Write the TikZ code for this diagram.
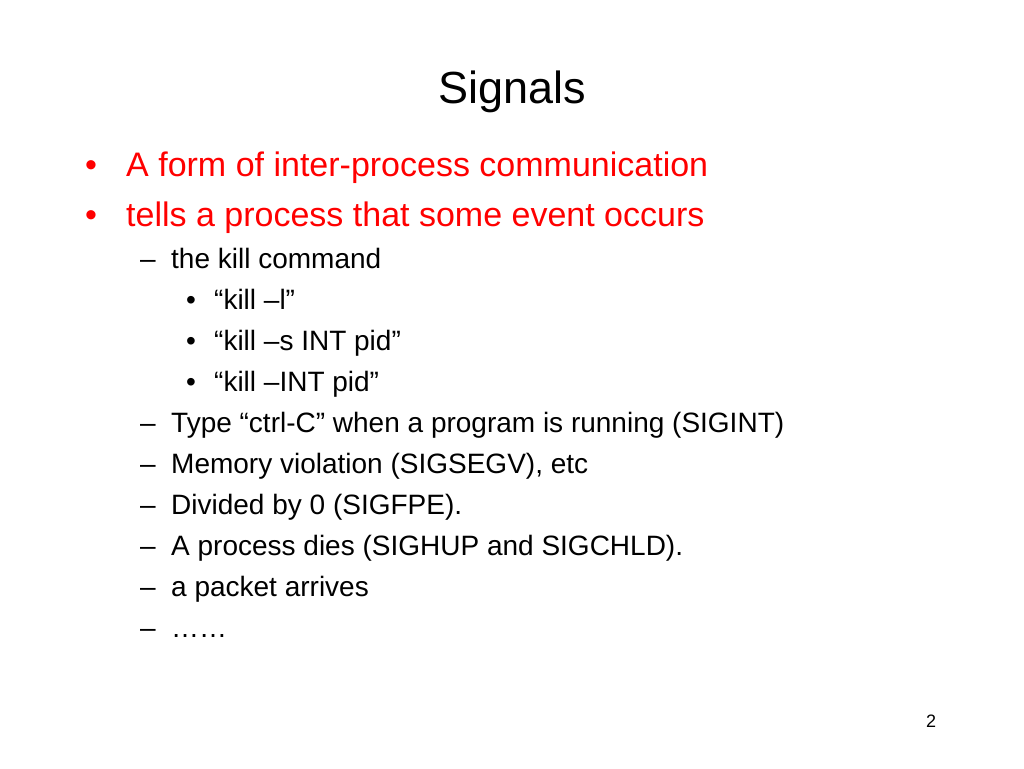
\documentclass[tikz,border=0pt]{standalone}
\usepackage{fontspec}
\setmainfont{Liberation Sans}
\begin{document}
\begin{tikzpicture}[x=1pt,y=-1pt,
  t/.style={anchor=base west,inner sep=0pt,font=\fontsize{28}{30}\selectfont},
  r/.style={anchor=base west,inner sep=0pt,text=red,font=\fontsize{34}{36}\selectfont}]
\useasboundingbox (0,0) rectangle (1024,768);
\node[anchor=base,inner sep=0pt,font=\fontsize{45}{48}\selectfont] (title) at (512,103) {Signals};
\node[r,text=red] (b1) at (85,176) {•};
\node[r] (l1) at (126,176) {A form of inter-process communication};
\node[r,text=red] (b2) at (85,226) {•};
\node[r] (l2) at (126,226) {tells a process that some event occurs};
\foreach \y/\s [count=\i] in {268/the kill command,432/Type “ctrl-C” when a program is running (SIGINT),473/{Memory violation (SIGSEGV), etc},514/Divided by 0 (SIGFPE).,555/A process dies (SIGHUP and SIGCHLD).,596/a packet arrives,637/……}{
  \node[t] (d\i) at (140,\y) {–};
  \node[t] (s\i) at (171,\y) {\s};
}
\foreach \y/\s [count=\i] in {309/“kill –l”,350/“kill –s INT pid”,391/“kill –INT pid”}{
  \node[t] (e\i) at (186,\y) {•};
  \node[t] (k\i) at (214,\y) {\s};
}
\node[anchor=base,inner sep=0pt,font=\fontsize{18}{20}\selectfont] (pg) at (931,727) {2};
\end{tikzpicture}
\end{document}
